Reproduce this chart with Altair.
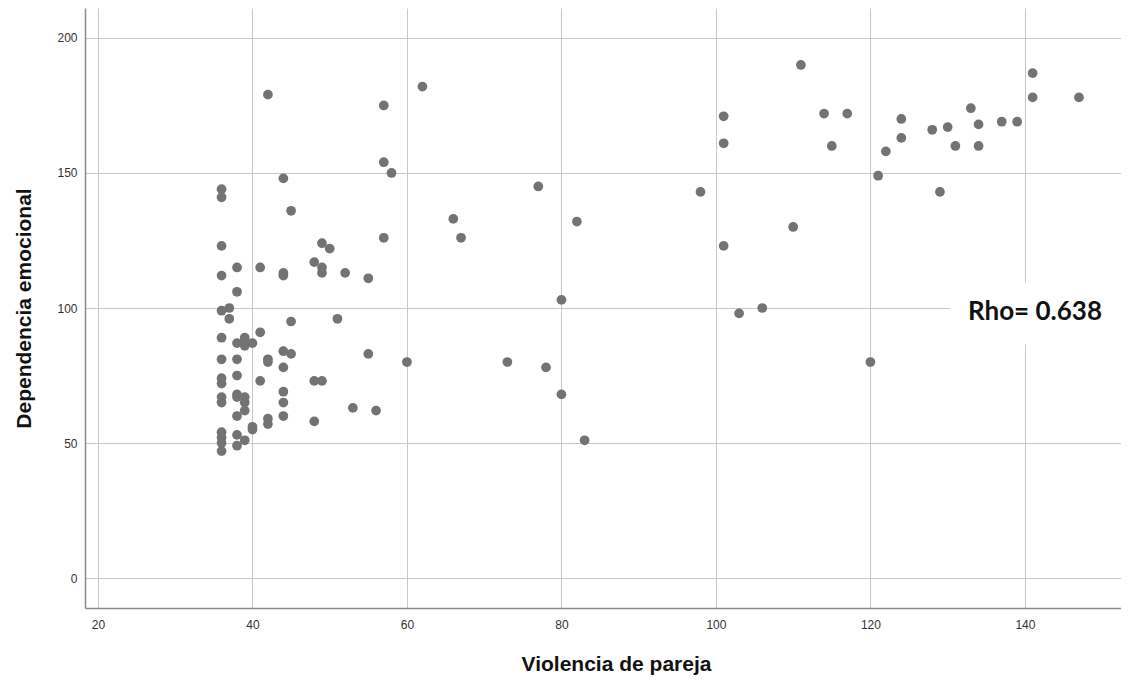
import altair as alt
import pandas as pd

# Violencia de pareja (x) and Dependencia emocional (y)
violencia = [
    36, 36, 36, 36, 36, 36, 36, 36, 36, 36, 36, 36, 36, 36, 36,
    37, 37,
    38, 38, 38, 38, 38, 38, 38, 38, 38, 38,
    39, 39, 39, 39, 39, 39, 39,
    40, 40, 40,
    41, 41, 41,
    42, 42, 42, 42, 42,
    44, 44, 44, 44, 44, 44, 44, 44,
    45, 45, 45,
    48, 48, 48,
    49, 49, 49, 49,
    50, 51, 52, 53, 55, 55, 56,
    57, 57, 57, 58, 60, 62, 66, 67, 73, 77, 78, 80, 80, 82, 83,
    98, 101, 101, 101, 103, 106, 110, 111, 114, 115, 117, 120, 121, 122,
    124, 124, 128, 129, 130, 131, 133, 134, 134, 137, 139, 141, 141, 147,
]
dependencia = [
    144, 141, 123, 112, 99, 89, 81, 74, 72, 67, 65, 54, 52, 50, 47,
    100, 96,
    115, 106, 87, 81, 75, 68, 67, 60, 53, 49,
    89, 86, 88, 67, 65, 62, 51,
    87, 56, 55,
    115, 91, 73,
    179, 81, 80, 59, 57,
    148, 113, 112, 84, 78, 69, 65, 60,
    136, 95, 83,
    117, 73, 58,
    124, 115, 113, 73,
    122, 96, 113, 63, 111, 83, 62,
    175, 154, 126, 150, 80, 182, 133, 126, 80, 145, 78, 103, 68, 132, 51,
    143, 171, 161, 123, 98, 100, 130, 190, 172, 160, 172, 80, 149, 158,
    170, 163, 166, 143, 167, 160, 174, 168, 160, 169, 169, 187, 178, 178,
]

x_ticks = [20, 40, 60, 80, 100, 120, 140]
y_ticks = [0, 50, 100, 150, 200]

rho_text = ["Rho= 0.638"]
rho_x = [141.3]
rho_y = [98.4]
rho_box_x = [130.3]
rho_box_x2 = [152.6]
rho_box_y = [86.3]
rho_box_y2 = [109.3]

df = pd.DataFrame({"x": violencia, "y": dependencia})
label_df = pd.DataFrame({"t": rho_text, "x": rho_x, "y": rho_y,
                         "bx": rho_box_x, "bx2": rho_box_x2,
                         "by": rho_box_y, "by2": rho_box_y2})

xscale = alt.Scale(domain=[18.32, 152.44], nice=False, zero=False)
yscale = alt.Scale(domain=[-11.1, 211.1], nice=False, zero=False)

points = alt.Chart(df).mark_circle(size=95, color="#737373", opacity=1).encode(
    x=alt.X("x:Q", scale=xscale, title="Violencia de pareja",
            axis=alt.Axis(values=x_ticks, grid=True, ticks=False, labelPadding=11,
                          titlePadding=23, titleX=531)),
    y=alt.Y("y:Q", scale=yscale, title="Dependencia emocional",
            axis=alt.Axis(values=y_ticks, grid=True, ticks=False, labelPadding=8,
                          titlePadding=22)),
)

box = alt.Chart(label_df).mark_rect(color="white", opacity=1).encode(
    x=alt.X("bx:Q", scale=xscale), x2="bx2:Q",
    y=alt.Y("by:Q", scale=yscale), y2="by2:Q",
)

text = alt.Chart(label_df).mark_text(
    font="Lato", fontWeight="bold", fontSize=26, color="#111111",
    align="center", baseline="middle",
).encode(
    x=alt.X("x:Q", scale=xscale),
    y=alt.Y("y:Q", scale=yscale),
    text="t:N",
)

chart = alt.layer(points, box, text).properties(
    width=1036, height=600,
    autosize=alt.AutoSizeParams(type="none"),
    padding={"left": 77, "top": 0, "right": 0, "bottom": 68},
).configure_view(stroke=None).configure_axis(
    gridColor="#c8c8c8", gridWidth=1,
    domainColor="#8a8a8a", domainWidth=1.5,
    labelFont="Liberation Sans", labelFontSize=12, labelColor="#333333",
    titleFont="Liberation Sans", titleFontSize=21, titleColor="#111111",
    titleFontWeight="bold",
)

chart.save("out.html", embed_options={"renderer": "svg", "actions": False})
